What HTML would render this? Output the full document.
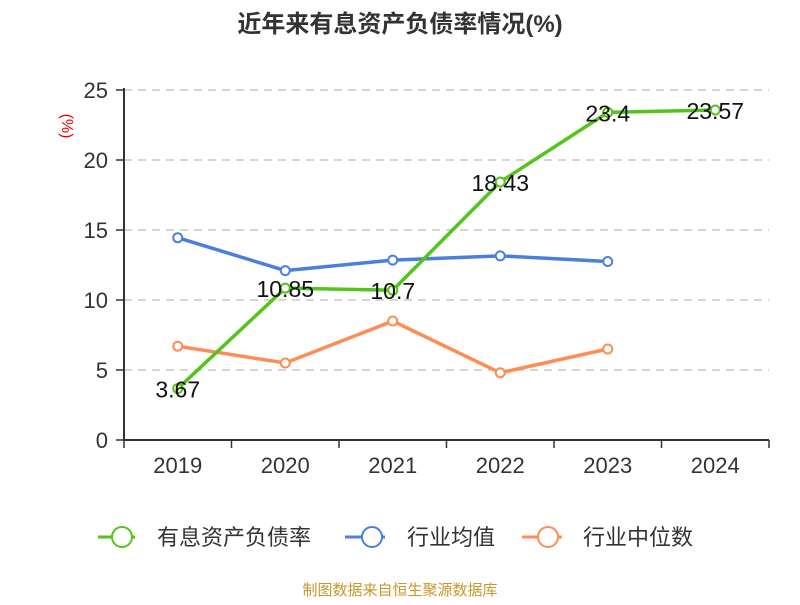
<!DOCTYPE html>
<html><head><meta charset="utf-8"><style>
body{margin:0;background:#fff;width:800px;height:600px;overflow:hidden;font-family:"Liberation Sans","Noto Sans CJK SC",sans-serif}
</style></head><body>
<svg width="800" height="600" xmlns="http://www.w3.org/2000/svg" id="chart">
<text x="400" y="32" text-anchor="middle" font-size="24" font-weight="bold" fill="#333">近年来有息资产负债率情况(%)</text>
<text transform="translate(62,126) rotate(90)" text-anchor="middle" font-size="16" fill="#e00">(%)</text>
<g id="grid"></g><g id="series"></g>
<g>
<g><line x1="98" y1="537" x2="135" y2="537" stroke="#52c41a" stroke-width="3"/><circle cx="122" cy="537" r="10" fill="#fff" stroke="#52c41a" stroke-width="2"/><text x="157" y="545" font-size="22" fill="#333">有息资产负债率</text></g>
<g><line x1="345" y1="537" x2="385" y2="537" stroke="#4a7fe0" stroke-width="3"/><circle cx="372" cy="537" r="10" fill="#fff" stroke="#4a7fe0" stroke-width="2"/><text x="407" y="545" font-size="22" fill="#333">行业均值</text></g>
<g><line x1="522" y1="537" x2="562" y2="537" stroke="#ff8c55" stroke-width="3"/><circle cx="548" cy="537" r="10" fill="#fff" stroke="#ff8c55" stroke-width="2"/><text x="583" y="545" font-size="22" fill="#333">行业中位数</text></g>
</g>
<text x="400" y="595" text-anchor="middle" font-size="15" fill="#c8962c">制图数据来自恒生聚源数据库</text>
</svg>
<script>
const categories=["2019","2020","2021","2022","2023","2024"];
const debtRatio=[3.67,10.85,10.7,18.43,23.4,23.57];
const industryMean=[14.45,12.1,12.85,13.15,12.75,null];
const industryMedian=[6.7,5.5,8.5,4.8,6.5,null];
const yTicks=[0,5,10,15,20,25];
const NS="http://www.w3.org/2000/svg";
const X0=124,X1=769,Y0=440,Y1=90,YMAX=25;
const bw=(X1-X0)/categories.length;
const xs=i=>X0+bw*(i+0.5);
const ys=v=>Y0-(v/YMAX)*(Y0-Y1);
function mk(tag,attrs,parent){const e=document.createElementNS(NS,tag);for(const k in attrs)e.setAttribute(k,attrs[k]);parent.appendChild(e);return e;}
const grid=document.getElementById('grid'),ser=document.getElementById('series');
yTicks.forEach(t=>{const y=ys(t);
 if(t>0){const g=mk('line',{x1:X0,x2:X1,y1:y,y2:y,stroke:'#c8c8c8','stroke-dasharray':'8,6','stroke-width':1.5},grid);
 
 }
 const tk=mk('line',{x1:X0-8,x2:X0,y1:y,y2:y,stroke:'#333','stroke-width':1.5},grid);
 
 
 const lb=mk('text',{x:X0-16,y:y+8,'text-anchor':'end','font-size':22,fill:'#333'},grid);lb.textContent=t;
 
 
});
const ya=mk('line',{x1:X0,x2:X0,y1:Y1-2,y2:Y0,stroke:'#333','stroke-width':2},grid);


const xa=mk('line',{x1:X0,x2:X1,y1:Y0,y2:Y0,stroke:'#333','stroke-width':2},grid);


for(let i=0;i<=categories.length;i++){const x=X0+bw*i;
 const tk=mk('line',{x1:x,x2:x,y1:Y0,y2:Y0+8,stroke:'#333','stroke-width':1.5},grid);
 
 }
categories.forEach((c,i)=>{const t=mk('text',{x:xs(i),y:Y0+33,'text-anchor':'middle','font-size':22,fill:'#333'},grid);t.textContent=c;
 
 });
function drawSeries(vals,color,name,labels){
 const pts=vals.map((v,i)=>v==null?null:[xs(i),ys(v)]).filter(p=>p);
 const pl=mk('polyline',{points:pts.map(p=>p.join(',')).join(' '),fill:'none',stroke:color,'stroke-width':3.5},ser);
 
 
 vals.forEach((v,i)=>{if(v==null)return;
  const c=mk('circle',{cx:xs(i),cy:ys(v),r:4.5,fill:'#fff',stroke:color,'stroke-width':2},ser);
  
  });
 if(labels)vals.forEach((v,i)=>{const t=mk('text',{x:xs(i),y:ys(v)+9,'text-anchor':'middle','font-size':23,fill:'#111'},ser);t.textContent=v;
  
  });
}
drawSeries(industryMedian,'#ff8c55','industry-median',false);
drawSeries(industryMean,'#4a7fe0','industry-mean',false);
drawSeries(debtRatio,'#52c41a','debt-ratio',true);
</script>
</body></html>
